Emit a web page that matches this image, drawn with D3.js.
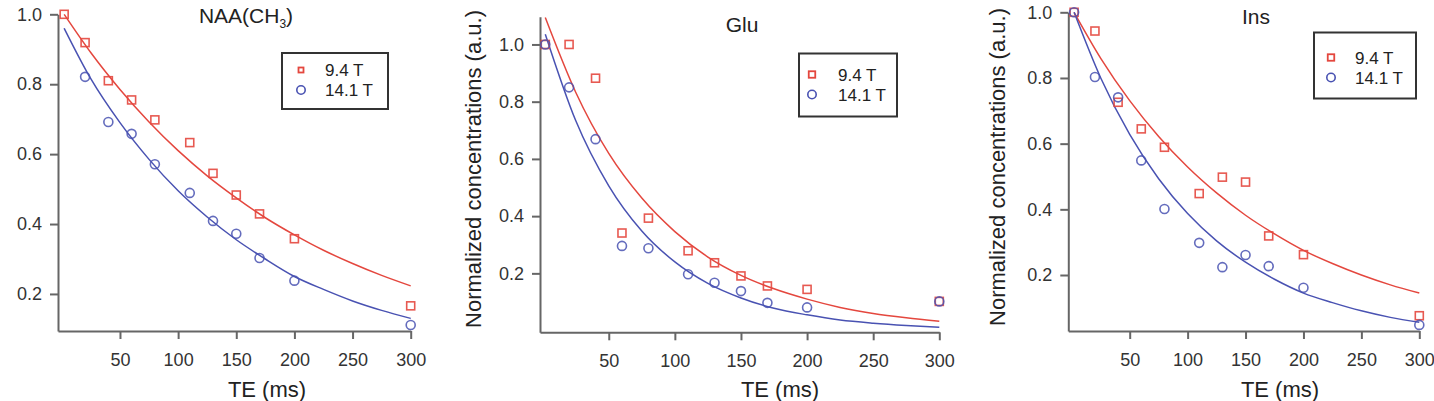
<!DOCTYPE html>
<html>
<head>
<meta charset="utf-8">
<script src="https://cdn.jsdelivr.net/npm/d3@7"></script>
<style>
  body { margin: 0; background: #fff; }
  svg { display: block; font-family: "Liberation Sans", Arial, Helvetica, sans-serif; }
</style>
</head>
<body>
<div id="chart-area"></div>
<script>
// echo times of the measured points (ms)
var teValues = [2, 20, 40, 60, 80, 110, 130, 150, 170, 200, 300];

// normalized concentrations
var naa94  = [1.00, 0.919, 0.810, 0.755, 0.698, 0.633, 0.545, 0.483, 0.429, 0.358, 0.166];
var naa141 = [null, 0.821, 0.692, 0.658, 0.571, 0.489, 0.409, 0.372, 0.303, 0.238, 0.111];
var glu94  = [1.00, 1.00, 0.882, 0.341, 0.393, 0.279, 0.237, 0.191, 0.156, 0.144, 0.102];
var glu141 = [1.00, 0.850, 0.669, 0.296, 0.288, 0.197, 0.167, 0.138, 0.097, 0.081, 0.102];
var ins94  = [1.00, 0.943, 0.726, 0.645, 0.589, 0.448, 0.498, 0.483, 0.319, 0.262, 0.076];
var ins141 = [1.00, 0.803, 0.741, 0.549, 0.401, 0.298, 0.224, 0.261, 0.227, 0.161, 0.048];

// fitted decay curves at these echo times
var fitTE     = [2, 25, 50, 75, 100, 125, 150, 175, 200, 225, 250, 275, 300];
var naa94Fit  = [1.00, 0.890, 0.785, 0.692, 0.610, 0.538, 0.475, 0.418, 0.369, 0.325, 0.287, 0.253, 0.223];
var naa141Fit = [0.960, 0.815, 0.690, 0.585, 0.495, 0.420, 0.355, 0.300, 0.250, 0.213, 0.180, 0.153, 0.130];
var glu94Fit  = [1.094, 0.833, 0.619, 0.463, 0.346, 0.257, 0.193, 0.146, 0.110, 0.081, 0.060, 0.045, 0.033];
var glu141Fit = [1.036, 0.734, 0.506, 0.348, 0.240, 0.165, 0.114, 0.078, 0.055, 0.037, 0.026, 0.018, 0.012];
var ins94Fit  = [1.00, 0.860, 0.731, 0.622, 0.529, 0.450, 0.382, 0.325, 0.275, 0.235, 0.200, 0.170, 0.145];
var ins141Fit = [1.00, 0.800, 0.628, 0.493, 0.387, 0.304, 0.239, 0.187, 0.145, 0.116, 0.091, 0.071, 0.056];

var xTicks = [50, 100, 150, 200, 250, 300];
var yTicks = [0.2, 0.4, 0.6, 0.8, 1.0];
var seriesNames = ["9.4 T", "14.1 T"];

var red = "#e4473e";
var blue = "#4952b2";

var width = 1434;
var height = 401;

var svg = d3.select("#chart-area")
    .append("svg")
    .attr("width", width)
    .attr("height", height);

var panels = [
    {
        title: "NAA", sub: "CH", subN: "3", titleX: 246, titleY: 23,
        red: naa94, blue: naa141, redFit: naa94Fit, blueFit: naa141Fit,
        xDomain: [-3.3, 300], xRange: [58, 410.7],
        yDomain: [0.094, 1.0], yRange: [331, 14.3],
        yLabel: null, xLabelX: 267,
        legend: { x: 282, y: 53, w: 106, h: 56, mx: 301, tx: 325, r1: 70, sq: 5 }
    },
    {
        title: "Glu", titleX: 742, titleY: 32,
        red: glu94, blue: glu141, redFit: glu94Fit, blueFit: glu141Fit,
        xDomain: [-2, 300], xRange: [540, 939.3],
        yDomain: [-0.006, 1.097], yRange: [332.3, 16.7],
        yLabel: { x: 481, y: 169 }, xLabelX: 780,
        legend: { x: 799, y: 53.5, w: 98, h: 63, mx: 812, tx: 838, r1: 74.5, sq: 6.5 }
    },
    {
        title: "Ins", titleX: 1256, titleY: 24,
        red: ins94, blue: ins141, redFit: ins94Fit, blueFit: ins141Fit,
        xDomain: [-3, 300], xRange: [1068.3, 1419.3],
        yDomain: [0.0295, 1.0], yRange: [331, 12.3],
        yLabel: { x: 1005, y: 167 }, xLabelX: 1280,
        legend: { x: 1314, y: 32.5, w: 102, h: 66, mx: 1331, tx: 1355, r1: 57.5, sq: 6.5 }
    }
];

panels.forEach(drawPanel);

function drawPanel(p) {
    var x = d3.scaleLinear().domain(p.xDomain).range(p.xRange);
    var y = d3.scaleLinear().domain(p.yDomain).range(p.yRange);

    var g = svg.append("g");

    // X axis
    var xAxisGroup = g.append("g")
        .attr("transform", "translate(0," + p.yRange[0] + ")")
        .call(d3.axisBottom(x)
            .tickValues(xTicks)
            .tickSize(8)
            .tickPadding(14)
            .tickSizeOuter(0));

    // Y axis
    var yAxisGroup = g.append("g")
        .attr("transform", "translate(" + p.xRange[0] + ",0)")
        .call(d3.axisLeft(y)
            .tickValues(yTicks)
            .tickSize(8)
            .tickPadding(8)
            .tickSizeOuter(0)
            .tickFormat(d3.format(".1f")));

    [xAxisGroup, yAxisGroup].forEach(function(ax) {
        ax.select(".domain").attr("stroke", "#666").attr("stroke-width", 2);
        ax.selectAll(".tick line").attr("stroke", "#666").attr("stroke-width", 2);
        ax.selectAll(".tick text")
            .attr("fill", "#333")
            .attr("font-size", "18px")
            .attr("font-family", "Liberation Sans, Arial, sans-serif");
    });

    // fitted curves
    var line = d3.line()
        .x(function(d) { return x(d[0]); })
        .y(function(d) { return y(d[1]); })
        .curve(d3.curveMonotoneX);

    g.append("path")
        .datum(d3.zip(fitTE, p.redFit))
        .attr("fill", "none")
        .attr("stroke", red)
        .attr("stroke-width", 1.5)
        .attr("d", line);

    g.append("path")
        .datum(d3.zip(fitTE, p.blueFit))
        .attr("fill", "none")
        .attr("stroke", blue)
        .attr("stroke-width", 1.5)
        .attr("d", line);

    // data points
    var sq = 8;
    g.selectAll(".sq")
        .data(d3.zip(teValues, p.red).filter(function(d) { return d[1] != null; }))
        .enter()
        .append("rect")
            .attr("x", function(d) { return x(d[0]) - sq / 2; })
            .attr("y", function(d) { return y(d[1]) - sq / 2; })
            .attr("width", sq)
            .attr("height", sq)
            .attr("fill", "none")
            .attr("stroke", red)
            .attr("stroke-opacity", 0.9)
            .attr("stroke-width", 1.6);

    g.selectAll(".ci")
        .data(d3.zip(teValues, p.blue).filter(function(d) { return d[1] != null; }))
        .enter()
        .append("circle")
            .attr("cx", function(d) { return x(d[0]); })
            .attr("cy", function(d) { return y(d[1]); })
            .attr("r", 4.5)
            .attr("fill", "none")
            .attr("stroke", blue)
            .attr("stroke-opacity", 0.85)
            .attr("stroke-width", 1.6);

    // title
    var title = g.append("text")
        .attr("x", p.titleX)
        .attr("y", p.titleY)
        .attr("text-anchor", "middle")
        .attr("font-size", "21px")
        .attr("fill", "#222");
    if (p.sub) {
        title.append("tspan").text(p.title + "(" + p.sub);
        title.append("tspan").attr("font-size", "12px").attr("dy", 5).text(p.subN);
        title.append("tspan").attr("dy", -5).text(")");
    } else {
        title.text(p.title);
    }

    // axis labels
    g.append("text")
        .attr("x", p.xLabelX)
        .attr("y", 397)
        .attr("text-anchor", "middle")
        .attr("font-size", "22px")
        .attr("fill", "#222")
        .text("TE (ms)");

    if (p.yLabel) {
        g.append("text")
            .attr("transform", "translate(" + p.yLabel.x + "," + p.yLabel.y + ") rotate(-90)")
            .attr("text-anchor", "middle")
            .attr("font-size", "22px")
            .attr("fill", "#222")
            .text("Normalized concentrations (a.u.)");
    }

    // legend
    var L = p.legend;
    g.append("rect")
        .attr("x", L.x)
        .attr("y", L.y)
        .attr("width", L.w)
        .attr("height", L.h)
        .attr("fill", "#fff")
        .attr("stroke", "#333")
        .attr("stroke-width", 2);

    g.append("rect")
        .attr("x", L.mx - L.sq / 2)
        .attr("y", L.r1 - L.sq / 2)
        .attr("width", L.sq)
        .attr("height", L.sq)
        .attr("fill", "none")
        .attr("stroke", red)
        .attr("stroke-width", 1.8);

    g.append("circle")
        .attr("cx", L.mx)
        .attr("cy", L.r1 + 20)
        .attr("r", 4.2)
        .attr("fill", "none")
        .attr("stroke", blue)
        .attr("stroke-width", 1.6);

    seriesNames.forEach(function(name, i) {
        g.append("text")
            .attr("x", L.tx)
            .attr("y", L.r1 + 6 + i * 20)
            .attr("font-size", "17px")
            .attr("fill", "#222")
            .text(name);
    });
}
</script>
</body>
</html>
